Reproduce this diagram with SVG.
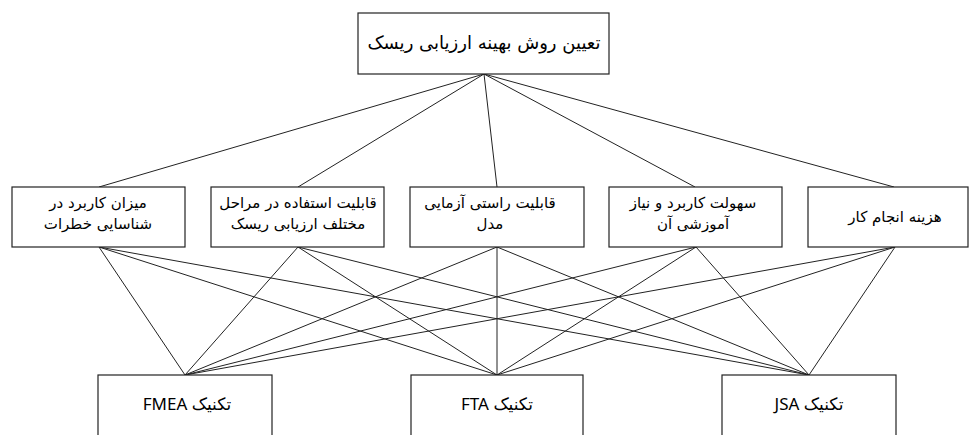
<svg xmlns="http://www.w3.org/2000/svg" width="971" height="435" viewBox="0 0 971 435">
<style>
.box{fill:#fff;stroke:#222;stroke-width:1.2}
.c{stroke:#222;stroke-width:1;fill:none}
.t{font-family:"DejaVu Sans","Noto Sans",sans-serif;font-size:15px;fill:#000;text-anchor:middle;direction:rtl}
.b{font-family:"Noto Sans","DejaVu Sans",sans-serif;font-size:17px;fill:#000;text-anchor:middle;direction:rtl}
</style>
<rect width="971" height="435" fill="#fff"/>
<g id="connectors">
<line class="c" x1="484" y1="74" x2="99" y2="187"/>
<line class="c" x1="484" y1="74" x2="298" y2="187"/>
<line class="c" x1="484" y1="74" x2="497" y2="187"/>
<line class="c" x1="484" y1="74" x2="695" y2="187"/>
<line class="c" x1="484" y1="74" x2="894" y2="187"/>
<line class="c" x1="99" y1="247" x2="185" y2="375"/>
<line class="c" x1="99" y1="247" x2="497" y2="375"/>
<line class="c" x1="99" y1="247" x2="809" y2="375"/>
<line class="c" x1="298" y1="247" x2="185" y2="375"/>
<line class="c" x1="298" y1="247" x2="497" y2="375"/>
<line class="c" x1="298" y1="247" x2="809" y2="375"/>
<line class="c" x1="497" y1="247" x2="185" y2="375"/>
<line class="c" x1="497" y1="247" x2="497" y2="375"/>
<line class="c" x1="497" y1="247" x2="809" y2="375"/>
<line class="c" x1="696" y1="247" x2="185" y2="375"/>
<line class="c" x1="696" y1="247" x2="497" y2="375"/>
<line class="c" x1="696" y1="247" x2="809" y2="375"/>
<line class="c" x1="895" y1="247" x2="185" y2="375"/>
<line class="c" x1="895" y1="247" x2="497" y2="375"/>
<line class="c" x1="895" y1="247" x2="809" y2="375"/>
</g>
<g id="top">
<rect class="box" x="358" y="13" width="251" height="61"/>
<text class="t" x="484" y="49" style="font-size:18px">تعیین روش بهینه ارزیابی ریسک</text>
</g>
<g id="m1">
<rect class="box" x="12" y="187" width="173" height="60"/>
<text class="t" x="98" y="208">میزان کاربرد در</text>
<text class="t" x="98" y="229">شناسایی خطرات</text>
</g>
<g id="m2">
<rect class="box" x="211" y="187" width="173" height="60"/>
<text class="t" x="298" y="208">قابلیت استفاده در مراحل</text>
<text class="t" x="298" y="229">مختلف ارزیابی ریسک</text>
</g>
<g id="m3">
<rect class="box" x="410" y="187" width="174" height="60"/>
<text class="t" x="490" y="208">قابلیت راستی آزمایی</text>
<text class="t" x="490" y="229">مدل</text>
</g>
<g id="m4">
<rect class="box" x="609" y="187" width="173" height="60"/>
<text class="t" x="693" y="208">سهولت کاربرد و نیاز</text>
<text class="t" x="693" y="229">آموزشی آن</text>
</g>
<g id="m5">
<rect class="box" x="808" y="187" width="160" height="60"/>
<text class="t" x="895" y="222">هزینه انجام کار</text>
</g>
<g id="fmea">
<rect class="box" x="98" y="375" width="174" height="70"/>
<text class="b" x="187" y="410">تکنیک FMEA</text>
</g>
<g id="fta">
<rect class="box" x="411" y="375" width="172" height="70"/>
<text class="b" x="497" y="410">تکنیک FTA</text>
</g>
<g id="jsa">
<rect class="box" x="722" y="375" width="174" height="70"/>
<text class="b" x="809" y="410">تکنیک JSA</text>
</g>
</svg>
